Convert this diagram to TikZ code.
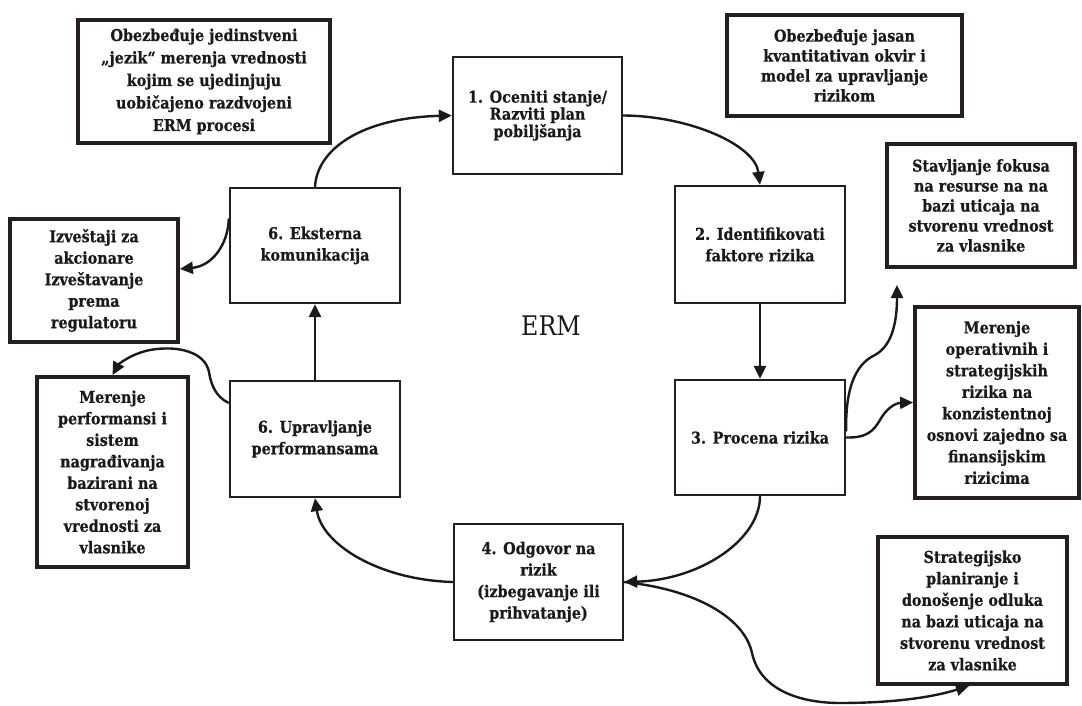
\documentclass[tikz,border=0pt]{standalone}
\usepackage{fontspec}
\setmainfont{DejaVu Serif}[FakeStretch=0.88,BoldFeatures={FakeBold=0.6}]
\usetikzlibrary{arrows.meta}
\definecolor{ink}{HTML}{1A1A1A}
\definecolor{edge}{HTML}{231F20}
\begin{document}
\begin{tikzpicture}[x=1pt,y=-1pt,
  box/.style={draw=edge,line width=2.4pt,align=center,inner sep=0pt,text=ink,
    font=\bfseries\fontsize{16.3}{21.5}\selectfont},
  note/.style={box,line width=3.8pt},
  link/.style={draw=ink,line width=2.4pt,-{Triangle[length=13pt,width=12pt]}}]
\useasboundingbox (0,0) rectangle (1082,706);

% cycle steps
\node[box,minimum width=169pt,minimum height=117pt,font=\bfseries\fontsize{16.3}{16}\selectfont]
  (b1) at (537.5,115.5) {1. Oceniti stanje/\\Razviti plan\\pobiljšanja};
\node[box,minimum width=170pt,minimum height=117pt] (b2) at (760,244.5) {2. Identifikovati\\faktore rizika};
\node[box,minimum width=170pt,minimum height=115pt] (b3) at (760,437.5) {3. Procena rizika};
\node[box,minimum width=169pt,minimum height=116pt] (b4) at (538.5,582) {4. Odgovor na\\rizik\\(izbegavanje ili\\prihvatanje)};
\node[box,minimum width=170pt,minimum height=116pt] (u6) at (315,439) {6. Upravljanje\\performansama};
\node[box,minimum width=170pt,minimum height=115pt] (e6) at (315,245.5) {6. Eksterna\\komunikacija};

\node[font=\fontsize{27}{30}\selectfont,text=ink] (erm) at (551,326) {ERM};

% side notes
\node[note,minimum width=252pt,minimum height=123pt,font=\bfseries\fontsize{16.3}{22.5}\selectfont]
  (tl) at (204,81.5) {Obezbeđuje jedinstveni\\„jezik“ merenja vrednosti\\kojim se ujedinjuju\\uobičajeno razdvojeni\\ERM procesi};
\node[note,minimum width=235pt,minimum height=101pt,font=\bfseries\fontsize{16.3}{20}\selectfont]
  (tr) at (844.5,65.5) {Obezbeđuje jasan\\kvantitativan okvir i\\model za upravljanje\\rizikom};
\node[note,minimum width=188pt,minimum height=123pt,font=\bfseries\fontsize{16.3}{20}\selectfont]
  (st) at (981,205.5) {Stavljanje fokusa\\na resurse na na\\bazi uticaja na\\stvorenu vrednost\\za vlasnike};
\node[note,minimum width=164pt,minimum height=191pt] (mo) at (997,402.5)
  {Merenje\\operativnih i\\strategijskih\\rizika na\\konzistentnoj\\osnovi zajedno sa\\finansijskim\\rizicima};
\node[note,minimum width=189pt,minimum height=147pt] (sp) at (972.5,610.5)
  {Strategijsko\\planiranje i\\donošenje odluka\\na bazi uticaja na\\stvorenu vrednost\\za vlasnike};
\node[note,minimum width=168pt,minimum height=123pt] (iz) at (94,280.5)
  {Izveštaji za\\akcionare\\Izveštavanje\\prema\\regulatoru};
\node[note,minimum width=151pt,minimum height=190pt] (mp) at (112.5,472)
  {Merenje\\performansi i\\sistem\\nagrađivanja\\bazirani na\\stvorenoj\\vrednosti za\\vlasnike};

\coordinate (stin) at (897,285);

% cycle connectors
\draw[link] (b1.east) .. controls (690,116) and (755,145) .. (b2.north);
\draw[link] (b2.south) -- (b3.north);
\draw[link] (b3.south) .. controls (760,540) and (700,580) .. (b4.east);
\draw[link] (b4.west) .. controls (380,580) and (322,545) .. (u6.south);
\draw[link] (u6.north) -- (e6.south);
\draw[link] (e6.north) .. controls (317,150) and (360,118) .. (b1.west);

% connectors to the notes
\draw[link] ([yshift=27pt]e6.west) .. controls (228,245) and (212,266) .. ([yshift=11.5pt]iz.east);
\draw[link] ([yshift=36pt]u6.west) .. controls (216,397) and (211,385) .. (209,372)
  .. controls (205,352) and (178,345) .. (150,350)
  .. controls (130,354) and (118,365) .. (mp.north);
\draw[link] ([yshift=6pt]b3.east) .. controls (845,380) and (860,362) .. (875,355)
  .. controls (893,345) and (897,320) .. (stin);
\draw[link] (b3.east) .. controls (868,438) and (874,430) .. (880,420)
  .. controls (886,409) and (895,403) .. (mo.west);
\draw[link] (b4.east) .. controls (700,590) and (745,620) .. (752,653)
  .. controls (760,690) and (800,703) .. (840,703)
  .. controls (890,703) and (930,698) .. ([xshift=-3.5pt]sp.south);
\end{tikzpicture}
\end{document}
